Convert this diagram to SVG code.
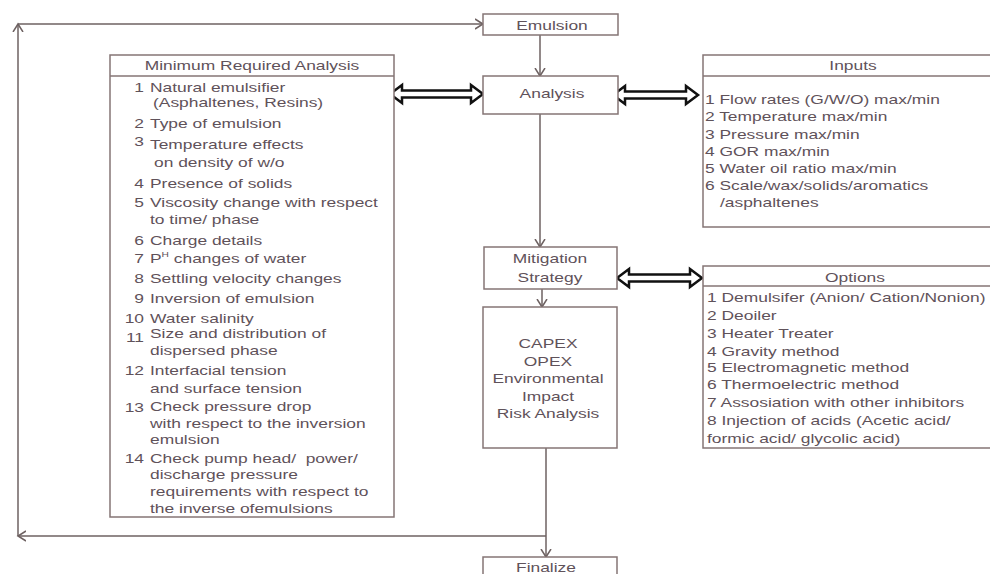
<svg xmlns="http://www.w3.org/2000/svg" width="990" height="574" viewBox="0 0 990 574">
<style>
  .box{fill:#fff;stroke:#857575;stroke-width:1.5}
  .sep{stroke:#857575;stroke-width:1.5;fill:none}
  .con{stroke:#6e6262;stroke-width:1.5;fill:none}
  .dbl{fill:#fff;stroke:#111;stroke-width:2.5;stroke-linejoin:miter}
  text{font-family:"Liberation Sans",Arial,sans-serif;font-size:13.6px;fill:#5f525a}
  .c{text-anchor:middle}
  .n{text-anchor:end}
</style>
<defs>
  <marker id="ah" markerUnits="userSpaceOnUse" markerWidth="10" markerHeight="12" refX="8" refY="5" orient="auto" viewBox="0 0 10 10">
    <path d="M0,0 L8,5 L0,10" fill="none" stroke="#6e6262" stroke-width="1.5"/>
  </marker>
</defs>
<rect width="990" height="574" fill="#fff"/>

<g id="connectors">
  <path class="con" d="M546,536 H18" marker-end="url(#ah)"/>
  <path class="con" d="M18,536 V24" marker-end="url(#ah)"/>
  <path class="con" d="M18,24 H483" marker-end="url(#ah)"/>
  <path class="con" d="M540,35 V76" marker-end="url(#ah)"/>
  <path class="con" d="M540,114 V247" marker-end="url(#ah)"/>
  <path class="con" d="M542,289 V307" marker-end="url(#ah)"/>
  <path class="con" d="M546,448 V557" marker-end="url(#ah)"/>
  <path class="dbl" d="M390,94 L402,85 L402,90.5 L471,90.5 L471,85 L483,94 L471,103 L471,97.5 L402,97.5 L402,103 Z"/>
  <path class="dbl" d="M613,95 L625,86 L625,91.5 L686,91.5 L686,86 L698,95 L686,104 L686,98.5 L625,98.5 L625,104 Z"/>
  <path class="dbl" d="M617,278 L629,269 L629,274.5 L690,274.5 L690,269 L702,278 L690,287 L690,281.5 L629,281.5 L629,287 Z"/>
</g>

<g id="emulsion">
  <rect class="box" x="483" y="14" width="135" height="21"/>
  <text class="c" transform="scale(1.28 1)" x="431.25" y="30">Emulsion</text>
</g>

<g id="analysis">
  <rect class="box" x="483" y="76" width="135" height="38"/>
  <text class="c" transform="scale(1.28 1)" x="431.25" y="98">Analysis</text>
</g>

<g id="mitigation">
  <rect class="box" x="484" y="247" width="133" height="42"/>
  <g transform="scale(1.28 1)">
    <text class="c" x="429.69" y="263">Mitigation</text>
    <text class="c" x="429.69" y="282">Strategy</text>
  </g>
</g>

<g id="capex">
  <rect class="box" x="483" y="307" width="134" height="141"/>
  <g transform="scale(1.28 1)">
    <text class="c" x="428.13" y="348">CAPEX</text>
    <text class="c" x="428.13" y="366">OPEX</text>
    <text class="c" x="428.13" y="383">Environmental</text>
    <text class="c" x="428.13" y="401">Impact</text>
    <text class="c" x="428.13" y="418">Risk Analysis</text>
  </g>
</g>

<g id="finalize">
  <rect class="box" x="483" y="557" width="134" height="30"/>
  <text class="c" transform="scale(1.28 1)" x="426.56" y="572">Finalize</text>
</g>

<g id="min-analysis">
  <rect class="box" x="110" y="55" width="284" height="462"/>
  <line class="sep" x1="110" y1="76" x2="394" y2="76"/>
  <g transform="scale(1.28 1)">
    <text class="c" x="196.88" y="70">Minimum Required Analysis</text>
    <text class="n" x="112.5" y="92">1</text><text x="117.19" y="92">Natural emulsifier</text>
    <text x="119.53" y="107">(Asphaltenes, Resins)</text>
    <text class="n" x="112.5" y="128">2</text><text x="117.19" y="128">Type of emulsion</text>
    <text class="n" x="112.5" y="146">3</text><text x="117.19" y="149">Temperature effects</text>
    <text x="120.31" y="167">on density of w/o</text>
    <text class="n" x="112.5" y="188">4</text><text x="117.19" y="188">Presence of solids</text>
    <text class="n" x="112.5" y="207">5</text><text x="117.19" y="207">Viscosity change with respect</text>
    <text x="117.19" y="224">to time/ phase</text>
    <text class="n" x="112.5" y="245">6</text><text x="117.19" y="245">Charge details</text>
    <text class="n" x="112.5" y="263">7</text><text x="117.19" y="263">P<tspan font-size="8" dy="-6">H</tspan><tspan dy="6"> changes of water</tspan></text>
    <text class="n" x="112.5" y="283">8</text><text x="117.19" y="283">Settling velocity changes</text>
    <text class="n" x="112.5" y="303">9</text><text x="117.19" y="303">Inversion of emulsion</text>
    <text class="n" x="112.5" y="323">10</text><text x="117.19" y="323">Water salinity</text>
    <text class="n" x="112.5" y="342">11</text><text x="117.19" y="338">Size and distribution of</text>
    <text x="117.19" y="355">dispersed phase</text>
    <text class="n" x="112.5" y="375">12</text><text x="117.19" y="375">Interfacial tension</text>
    <text x="117.19" y="393">and surface tension</text>
    <text class="n" x="112.5" y="412">13</text><text x="117.19" y="411">Check pressure drop</text>
    <text x="117.19" y="428">with respect to the inversion</text>
    <text x="117.19" y="444">emulsion</text>
    <text class="n" x="112.5" y="463">14</text><text x="117.19" y="463" xml:space="preserve">Check pump head/  power/</text>
    <text x="117.19" y="479">discharge pressure</text>
    <text x="117.19" y="496">requirements with respect to</text>
    <text x="117.19" y="513">the inverse ofemulsions</text>
  </g>
</g>

<g id="inputs">
  <rect class="box" x="703" y="55" width="300" height="172"/>
  <line class="sep" x1="703" y1="76" x2="1003" y2="76"/>
  <g transform="scale(1.28 1)">
    <text class="c" x="666.41" y="70">Inputs</text>
    <text x="550.78" y="104">1 Flow rates (G/W/O) max/min</text>
    <text x="550.78" y="121">2 Temperature max/min</text>
    <text x="550.78" y="139">3 Pressure max/min</text>
    <text x="550.78" y="156">4 GOR max/min</text>
    <text x="550.78" y="173">5 Water oil ratio max/min</text>
    <text x="550.78" y="190">6 Scale/wax/solids/aromatics</text>
    <text x="562.5" y="207">/asphaltenes</text>
  </g>
</g>

<g id="options">
  <rect class="box" x="703" y="266" width="300" height="182"/>
  <line class="sep" x1="703" y1="286" x2="1003" y2="286"/>
  <g transform="scale(1.28 1)">
    <text class="c" x="667.97" y="282">Options</text>
    <text x="552.34" y="302">1 Demulsifer (Anion/ Cation/Nonion)</text>
    <text x="552.34" y="320">2 Deoiler</text>
    <text x="552.34" y="338">3 Heater Treater</text>
    <text x="552.34" y="356">4 Gravity method</text>
    <text x="552.34" y="372">5 Electromagnetic method</text>
    <text x="552.34" y="389">6 Thermoelectric method</text>
    <text x="552.34" y="407">7 Assosiation with other inhibitors</text>
    <text x="552.34" y="425">8 Injection of acids (Acetic acid/</text>
    <text x="552.34" y="443">formic acid/ glycolic acid)</text>
  </g>
</g>
</svg>
